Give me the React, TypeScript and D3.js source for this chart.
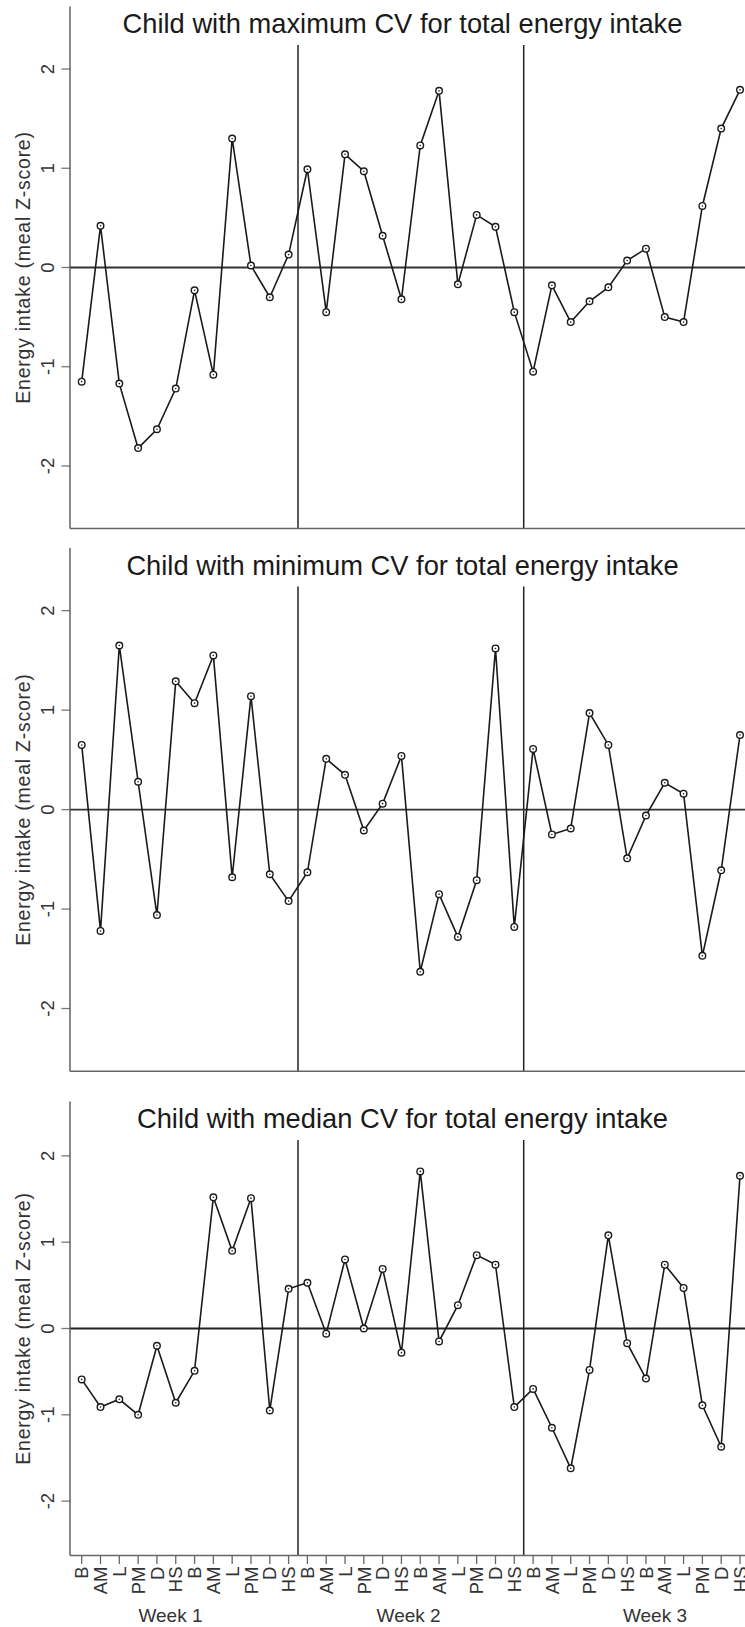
import React from "react";
import * as d3 from "d3";

// ---- data ----
const mealLabels = ["B", "AM", "L", "PM", "D", "HS"];
const weekLabels = ["Week 1", "Week 2", "Week 3"];
const panelTitles = [
  "Child with maximum CV for total energy intake",
  "Child with minimum CV for total energy intake",
  "Child with median CV for total energy intake",
];
const yTicks = [-2, -1, 0, 1, 2];

const maxCV = [
  -1.15, 0.42, -1.17, -1.82, -1.63, -1.22, -0.23, -1.08, 1.3, 0.02, -0.3, 0.13,
  0.99, -0.45, 1.14, 0.97, 0.32, -0.32, 1.23, 1.78, -0.17, 0.53, 0.41, -0.45,
  -1.05, -0.18, -0.55, -0.34, -0.2, 0.07, 0.19, -0.5, -0.55, 0.62, 1.4, 1.79,
];
const minCV = [
  0.65, -1.22, 1.65, 0.28, -1.06, 1.29, 1.07, 1.55, -0.68, 1.14, -0.65, -0.92,
  -0.63, 0.51, 0.35, -0.21, 0.06, 0.54, -1.63, -0.85, -1.28, -0.71, 1.62, -1.18,
  0.61, -0.25, -0.19, 0.97, 0.65, -0.49, -0.06, 0.27, 0.16, -1.47, -0.61, 0.75,
];
const medianCV = [
  -0.59, -0.91, -0.82, -1.0, -0.2, -0.86, -0.49, 1.52, 0.9, 1.51, -0.95, 0.46,
  0.53, -0.06, 0.8, 0.0, 0.69, -0.28, 1.82, -0.15, 0.27, 0.85, 0.74, -0.91,
  -0.7, -1.15, -1.62, -0.48, 1.08, -0.17, -0.58, 0.74, 0.47, -0.89, -1.37, 1.77,
];
const panelSeries = [maxCV, minCV, medianCV];

// x positions of the week captions, in meal-index units
const weekLabelAt = [5.72, 18.38, 31.48];
// week separators, in meal-index units
const weekBreaks = [12.5, 24.5];

const W = 745;
const H = 1627;
const FONT = "'Liberation Sans', Arial, Helvetica, sans-serif";

const panels = [
  { top: 6.5, bottom: 528.5 },
  { top: 548, bottom: 1071.2 },
  { top: 1101.5, bottom: 1555.5 },
];

const axisLeft = 70;

export default function App() {
  const x = d3.scaleLinear().domain([1, 36]).range([81.7, 740]);
  const xLabels = weekLabels.flatMap(() => [...mealLabels, ...mealLabels]);
  const line = (y: d3.ScaleLinear<number, number>) =>
    d3
      .line<number>()
      .x((_, i) => x(i + 1))
      .y((d) => y(d));

  return (
    <div style={{ position: "absolute", left: 0, top: 0 }}>
      <svg width={W} height={H} style={{ display: "block", background: "#fff" }} fontFamily={FONT}>
        {panels.map((p, pi) => {
          const y = d3.scaleLinear().domain([-2.63, 2.63]).range([p.bottom, p.top]);
          const data = panelSeries[pi];
          const isLast = pi === panels.length - 1;
          return (
            <g key={pi}>
              {/* title */}
              <text x={402.5} y={p.top + 26.5} textAnchor="middle" fontSize={27.3} fill="#1a1a1a">
                {panelTitles[pi]}
              </text>
              {/* y axis title */}
              <text
                transform={`translate(29.5,${y(0)}) rotate(-90)`}
                textAnchor="middle"
                fontSize={19.5}
                letterSpacing={0.75}
                fill="#333"
              >
                Energy intake (meal Z-score)
              </text>
              {/* y ticks */}
              {yTicks.map((t) => (
                <g key={t}>
                  <line x1={61.5} x2={axisLeft} y1={y(t)} y2={y(t)} stroke="#777" strokeWidth={1.3} />
                  <text
                    transform={`translate(53.5,${y(t)}) rotate(-90)`}
                    textAnchor="middle"
                    fontSize={18.5}
                    fill="#333"
                  >
                    {t}
                  </text>
                </g>
              ))}
              {/* week separators */}
              {weekBreaks.map((b) => (
                <line
                  key={b}
                  x1={x(b)}
                  x2={x(b)}
                  y1={p.top + 38.5}
                  y2={p.bottom}
                  stroke="#222"
                  strokeWidth={1.5}
                />
              ))}
              {/* zero line */}
              <line
                x1={axisLeft}
                x2={W}
                y1={y(0)}
                y2={y(0)}
                stroke={isLast ? "#222" : "#333"}
                strokeWidth={isLast ? 2.2 : 1.8}
              />
              {/* axes */}
              <line x1={axisLeft} x2={axisLeft} y1={p.top} y2={p.bottom} stroke="#555" strokeWidth={1.4} />
              <line x1={axisLeft} x2={W} y1={p.bottom} y2={p.bottom} stroke="#666" strokeWidth={1.5} />
              {/* series */}
              <path d={line(y)(data) || ""} fill="none" stroke="#1a1a1a" strokeWidth={1.6} />
              {data.map((d, i) => (
                <g key={i}>
                  <circle cx={x(i + 1)} cy={y(d)} r={3.3} fill="#fff" stroke="#1a1a1a" strokeWidth={1.4} />
                  <circle cx={x(i + 1)} cy={y(d)} r={0.8} fill="#1a1a1a" />
                </g>
              ))}
              {/* x axis ticks and labels (bottom panel only) */}
              {isLast && (
                <g>
                  {xLabels.map((lab, i) => (
                    <g key={i}>
                      <line
                        x1={x(i + 1)}
                        x2={x(i + 1)}
                        y1={p.bottom}
                        y2={p.bottom + 8.5}
                        stroke="#666"
                        strokeWidth={1.3}
                      />
                      <text
                        transform={`translate(${x(i + 1)},${p.bottom + 11}) rotate(-90)`}
                        textAnchor="end"
                        dy="0.36em"
                        fontSize={18.5}
                        fill="#333"
                      >
                        {lab}
                      </text>
                    </g>
                  ))}
                  {weekLabels.map((w, i) => (
                    <text
                      key={w}
                      x={x(weekLabelAt[i])}
                      y={1621.5}
                      textAnchor="middle"
                      fontSize={19}
                      fill="#333"
                    >
                      {w}
                    </text>
                  ))}
                </g>
              )}
            </g>
          );
        })}
      </svg>
    </div>
  );
}
